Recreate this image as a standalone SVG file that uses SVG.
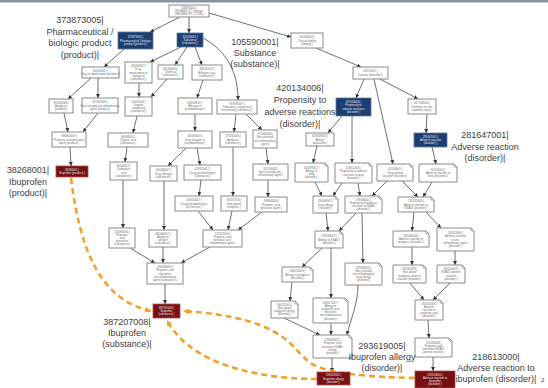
<svg xmlns="http://www.w3.org/2000/svg" width="548" height="388" viewBox="0 0 548 388">
<style>
  .bx{fill:#fff;stroke:#8a8a8a;stroke-width:1}
  .nt{fill:#fff;stroke:#8a8a8a;stroke-width:1}
  .fold{fill:none;stroke:#8a8a8a;stroke-width:0.7}
  .blue{fill:#1d3d6f;stroke:#5c7aa6;stroke-width:0.8}
  .red{fill:#761012;stroke:#b35050;stroke-width:0.8}
  .t{font-family:"Liberation Sans",Arial,sans-serif;font-size:2.8px;fill:#6e6e6e;text-anchor:middle}
  .tw{font-family:"Liberation Sans",Arial,sans-serif;font-size:2.8px;fill:#e6e6f0;text-anchor:middle}
  .lbl{font-family:"Liberation Sans",Arial,sans-serif;font-size:9px;fill:#3e3e3e;text-anchor:middle}
  .e{fill:none;stroke:#4a4a4a;stroke-width:0.8;marker-end:url(#ah)}
  .o{fill:none;stroke:#f2a22a;stroke-width:2.6;stroke-dasharray:6 4;marker-end:url(#oh)}
</style>
<defs>
  <marker id="ah" viewBox="0 0 6 6" refX="6" refY="3" markerWidth="5" markerHeight="5" orient="auto"><path d="M0 0L6 3L0 6z" fill="#333"/></marker>
  <marker id="oh" viewBox="0 0 6 6" refX="6" refY="3" markerWidth="6" markerHeight="6" markerUnits="userSpaceOnUse" orient="auto"><path d="M0 0L6 3L0 6z" fill="#f2a22a"/></marker>
</defs>
<rect width="548" height="388" fill="#fff"/>
<rect width="548" height="2.5" fill="#8794a3"/>

<!-- connectors -->
<g id="connectors">
  <path class="e" d="M180 17L150 32"/>
  <path class="e" d="M189 17L189 33"/>
  <path class="e" d="M209 13L291 37"/>
  <path class="e" d="M124 49L104 67"/>
  <path class="e" d="M181 47L150 62"/>
  <path class="e" d="M187 47L175 65"/>
  <path class="e" d="M195 47L202 65"/>
  <path class="e" d="M203 38C225 50 238 70 238 100"/>
  <path class="e" d="M316 48L361 67"/>
  <path class="e" d="M91 78L68 99"/>
  <path class="e" d="M98 78L98 98"/>
  <path class="e" d="M139 83L139 97"/>
  <path class="e" d="M167 79L151 97"/>
  <path class="e" d="M203 80L197 98"/>
  <path class="e" d="M364 79L356 98"/>
  <path class="e" d="M380 79L418 99"/>
  <path class="e" d="M374 79L393 164"/>
  <path class="e" d="M64 113L68 132"/>
  <path class="e" d="M98 113L83 132"/>
  <path class="e" d="M137 116L133 133"/>
  <path class="e" d="M195 114L195 131"/>
  <path class="e" d="M236 114L234 132"/>
  <path class="e" d="M246 114L262 130"/>
  <path class="e" d="M342 116L328 133"/>
  <path class="e" d="M352 116L352 163"/>
  <path class="e" d="M427 114L426 133"/>
  <path class="e" d="M70 147L71 166"/>
  <path class="e" d="M127 147L125 162"/>
  <path class="e" d="M186 148L168 166"/>
  <path class="e" d="M197 148L200 165"/>
  <path class="e" d="M233 147L233 196"/>
  <path class="e" d="M266 148L268 164"/>
  <path class="e" d="M317 146L313 163"/>
  <path class="e" d="M432 147L436 164"/>
  <path class="e" d="M123 180L123 228"/>
  <path class="e" d="M164 181L164 230"/>
  <path class="e" d="M201 180L199 196"/>
  <path class="e" d="M268 180L268 197"/>
  <path class="e" d="M315 182L322 196"/>
  <path class="e" d="M342 183L333 196"/>
  <path class="e" d="M358 183L360 196"/>
  <path class="e" d="M387 181L372 196"/>
  <path class="e" d="M402 181L418 197"/>
  <path class="e" d="M432 182L423 197"/>
  <path class="e" d="M198 211L213 230"/>
  <path class="e" d="M232 211L228 230"/>
  <path class="e" d="M262 212L238 230"/>
  <path class="e" d="M326 213L328 231"/>
  <path class="e" d="M356 213L339 231"/>
  <path class="e" d="M362 213L363 263"/>
  <path class="e" d="M414 212L412 231"/>
  <path class="e" d="M426 212L441 228"/>
  <path class="e" d="M130 248L155 263"/>
  <path class="e" d="M163 247L163 263"/>
  <path class="e" d="M210 247L181 263"/>
  <path class="e" d="M322 248L302 267"/>
  <path class="e" d="M331 248L331 298"/>
  <path class="e" d="M412 247L412 265"/>
  <path class="e" d="M455 251L455 265"/>
  <path class="e" d="M165 284L165 304"/>
  <path class="e" d="M292 282L290 301"/>
  <path class="e" d="M358 285C358 305 350 320 347 335"/>
  <path class="e" d="M284 318L320 335"/>
  <path class="e" d="M331 323L331 335"/>
  <path class="e" d="M410 283L424 300"/>
  <path class="e" d="M450 283L433 300"/>
  <path class="e" d="M428 320L429 338"/>
  <path class="e" d="M332 358L332 372"/>
  <path class="e" d="M433 357L433 371"/>
  <!-- attribute relationships to the ibuprofen substance -->
  <path class="o" d="M71 178C80 250 100 300 151 311"/>
  <path class="o" d="M317 379C260 379 190 365 167 320"/>
  <path class="o" d="M415 378C370 377 330 374 312 364C290 350 290 318 183 311"/>
</g>

<!-- concept nodes -->
<g id="n138875005"><rect class="bx" x="169" y="5" width="40" height="12"/><text class="t" x="189" y="8.8"><tspan x="189">138875005 |</tspan><tspan x="189" dy="3.2">SNOMED CT Concept</tspan><tspan x="189" dy="3.2">(SNOMED RT+CTV3) |</tspan></text></g>
<g id="n373873005"><rect class="blue" x="118" y="32" width="35" height="17"/><text class="tw" x="135.5" y="38.3"><tspan x="135.5">373873005 |</tspan><tspan x="135.5" dy="3.2">Pharmaceutical / biologic</tspan><tspan x="135.5" dy="3.2">product (product) |</tspan></text></g>
<g id="n105590001"><rect class="blue" x="177" y="33" width="26" height="14"/><text class="tw" x="190" y="37.8"><tspan x="190">105590001 |</tspan><tspan x="190" dy="3.2">Substance</tspan><tspan x="190" dy="3.2">(substance) |</tspan></text></g>
<g id="n404684003"><rect class="bx" x="291" y="33" width="32" height="15"/><text class="t" x="307" y="38.3"><tspan x="307">404684003 |</tspan><tspan x="307" dy="3.2">Clinical finding</tspan><tspan x="307" dy="3.2">(finding) |</tspan></text></g>
<g id="nA"><rect class="bx" x="82" y="67" width="37" height="11"/><text class="t" x="100.5" y="71.9"><tspan x="100.5">410942007 |</tspan><tspan x="100.5" dy="3.2">Drug or medicament (product) |</tspan></text></g>
<g id="nB"><rect class="bx" x="125" y="62" width="27" height="21"/><text class="t" x="138.5" y="67.1"><tspan x="138.5">410942007 |</tspan><tspan x="138.5" dy="3.2">Drug,</tspan><tspan x="138.5" dy="3.2">medicament or</tspan><tspan x="138.5" dy="3.2">biological</tspan><tspan x="138.5" dy="3.2">(substance) |</tspan></text></g>
<g id="nC"><rect class="bx" x="158" y="65" width="25" height="14"/><text class="t" x="170.5" y="69.8"><tspan x="170.5">441900009 |</tspan><tspan x="170.5" dy="3.2">Chemical</tspan><tspan x="170.5" dy="3.2">(substance) |</tspan></text></g>
<g id="nD"><rect class="bx" x="192" y="65" width="30" height="15"/><text class="t" x="207" y="70.3"><tspan x="207">406455002 |</tspan><tspan x="207" dy="3.2">Allergen class</tspan><tspan x="207" dy="3.2">(substance) |</tspan></text></g>
<g id="n64572001"><rect class="bx" x="353" y="67" width="35" height="12"/><text class="t" x="370.5" y="72.4"><tspan x="370.5">64572001 |</tspan><tspan x="370.5" dy="3.2">Disease (disorder) |</tspan></text></g>
<g id="nE"><rect class="bx" x="49" y="99" width="24" height="14"/><text class="t" x="61" y="103.8"><tspan x="61">373265006 |</tspan><tspan x="61" dy="3.2">Analgesic</tspan><tspan x="61" dy="3.2">(product) |</tspan></text></g>
<g id="nF"><rect class="bx" x="82" y="98" width="36" height="15"/><text class="t" x="100" y="103.3"><tspan x="100">372665008 |</tspan><tspan x="100" dy="3.2">Non-steroidal anti-inflammatory</tspan><tspan x="100" dy="3.2">agent (product) |</tspan></text></g>
<g id="nG"><rect class="bx" x="125" y="97" width="27" height="19"/><text class="t" x="138.5" y="102.7"><tspan x="138.5">59107004 |</tspan><tspan x="138.5" dy="3.2">Organic</tspan><tspan x="138.5" dy="3.2">compound</tspan><tspan x="138.5" dy="3.2">(substance) |</tspan></text></g>
<g id="nH"><rect class="bx" x="178" y="98" width="34" height="16"/><text class="t" x="195" y="103.8"><tspan x="195">418038007 |</tspan><tspan x="195" dy="3.2">Allergen or</tspan><tspan x="195" dy="3.2">pseudoallergen |</tspan></text></g>
<g id="nI"><rect class="bx" x="217" y="100" width="40" height="14"/><text class="t" x="237" y="104.8"><tspan x="237">373463007 |</tspan><tspan x="237" dy="3.2">Substance categorized</tspan><tspan x="237" dy="3.2">functionally (substance) |</tspan></text></g>
<g id="n420134006"><rect class="blue" x="336" y="98" width="35" height="18"/><text class="tw" x="353.5" y="103.2"><tspan x="353.5">420134006 |</tspan><tspan x="353.5" dy="3.2">Propensity to</tspan><tspan x="353.5" dy="3.2">adverse reactions</tspan><tspan x="353.5" dy="3.2">(disorder) |</tspan></text></g>
<g id="nQ"><rect class="bx" x="408" y="99" width="28" height="15"/><text class="t" x="422" y="104.3"><tspan x="422">417163006 |</tspan><tspan x="422" dy="3.2">Traumatic or non-</tspan><tspan x="422" dy="3.2">traumatic injury |</tspan></text></g>
<g id="nJ"><rect class="bx" x="52" y="132" width="34" height="15"/><text class="t" x="69" y="137.3"><tspan x="69">768604009 |</tspan><tspan x="69" dy="3.2">Propionic acid derivative</tspan><tspan x="69" dy="3.2">agent (product) |</tspan></text></g>
<g id="nK"><rect class="bx" x="108" y="133" width="40" height="14"/><text class="t" x="128" y="137.8"><tspan x="128">48698004 |</tspan><tspan x="128" dy="3.2">Organic acid</tspan><tspan x="128" dy="3.2">(substance) |</tspan></text></g>
<g id="nL"><rect class="bx" x="178" y="131" width="34" height="17"/><text class="t" x="195" y="137.3"><tspan x="195">406463001 |</tspan><tspan x="195" dy="3.2">Drug allergen or</tspan><tspan x="195" dy="3.2">pseudoallergen |</tspan></text></g>
<g id="nM"><rect class="bx" x="220" y="132" width="26" height="15"/><text class="t" x="233" y="137.3"><tspan x="233">373265006 |</tspan><tspan x="233" dy="3.2">Analgesic</tspan><tspan x="233" dy="3.2">(substance) |</tspan></text></g>
<g id="nN"><rect class="bx" x="253" y="130" width="24" height="18"/><text class="t" x="265" y="135.2"><tspan x="265">372665008 |</tspan><tspan x="265" dy="3.2">Non-steroidal</tspan><tspan x="265" dy="3.2">anti-inflammatory</tspan><tspan x="265" dy="3.2">agent |</tspan></text></g>
<g id="nR5"><rect class="bx" x="306" y="133" width="28" height="13"/><text class="t" x="320" y="137.3"><tspan x="320">609328004 |</tspan><tspan x="320" dy="3.2">Allergic</tspan><tspan x="320" dy="3.2">disposition |</tspan></text></g>
<g id="n281647001"><rect class="blue" x="414" y="133" width="33" height="14"/><text class="tw" x="430.5" y="137.8"><tspan x="430.5">281647001 |</tspan><tspan x="430.5" dy="3.2">Adverse reaction</tspan><tspan x="430.5" dy="3.2">(disorder) |</tspan></text></g>
<g id="n38268001"><rect class="red" x="56" y="166" width="32" height="11"/><text class="tw" x="72" y="170.9"><tspan x="72">38268001 |</tspan><tspan x="72" dy="3.2">Ibuprofen (product) |</tspan></text></g>
<g id="nS1"><rect class="bx" x="110" y="162" width="27" height="18"/><text class="t" x="123.5" y="167.2"><tspan x="123.5">68540007 |</tspan><tspan x="123.5" dy="3.2">Carboxylic</tspan><tspan x="123.5" dy="3.2">acid</tspan><tspan x="123.5" dy="3.2">(substance) |</tspan></text></g>
<g id="nS2"><rect class="bx" x="150" y="166" width="27" height="15"/><text class="t" x="163.5" y="171.3"><tspan x="163.5">406464007 |</tspan><tspan x="163.5" dy="3.2">Drug allergen</tspan><tspan x="163.5" dy="3.2">(substance) |</tspan></text></g>
<g id="nS3"><rect class="bx" x="184" y="165" width="37" height="15"/><text class="t" x="202.5" y="170.3"><tspan x="202.5">418920007 |</tspan><tspan x="202.5" dy="3.2">Drug pseudoallergen</tspan><tspan x="202.5" dy="3.2">(substance) |</tspan></text></g>
<g id="nS4"><rect class="bx" x="253" y="164" width="35" height="16"/><text class="t" x="270.5" y="169.8"><tspan x="270.5">763158003 |</tspan><tspan x="270.5" dy="3.2">Non-steroidal anti-</tspan><tspan x="270.5" dy="3.2">inflammatory agent |</tspan></text></g>
<g id="nS5"><path class="nt" d="M295 163h30l3 3v16h-33z"/><path class="fold" d="M325 163v3h3"/><text class="t" x="311.5" y="168.7"><tspan x="311.5">416098002 |</tspan><tspan x="311.5" dy="3.2">Allergy to</tspan><tspan x="311.5" dy="3.2">drug</tspan><tspan x="311.5" dy="3.2">(disorder) |</tspan></text></g>
<g id="nS6"><path class="nt" d="M335 163h34l3 3v17h-37z"/><path class="fold" d="M369 163v3h3"/><text class="t" x="353.5" y="169.2"><tspan x="353.5">419511003 |</tspan><tspan x="353.5" dy="3.2">Propensity to adverse</tspan><tspan x="353.5" dy="3.2">reactions to drug</tspan><tspan x="353.5" dy="3.2">(disorder) |</tspan></text></g>
<g id="nS7"><path class="nt" d="M377 164h33l3 3v14h-36z"/><path class="fold" d="M410 164v3h3"/><text class="t" x="395" y="170.3"><tspan x="395">62014003 |</tspan><tspan x="395" dy="3.2">Drug-related</tspan><tspan x="395" dy="3.2">disorder (disorder) |</tspan></text></g>
<g id="nS8"><path class="nt" d="M419 164h35l3 3v15h-38z"/><path class="fold" d="M454 164v3h3"/><text class="t" x="438" y="170.8"><tspan x="438">62014003 |</tspan><tspan x="438" dy="3.2">Adverse reaction to</tspan><tspan x="438" dy="3.2">drug (disorder) |</tspan></text></g>
<g id="nU1"><rect class="bx" x="175" y="196" width="38" height="15"/><text class="t" x="194" y="201.3"><tspan x="194">418920007 |</tspan><tspan x="194" dy="3.2">Drug pseudoallergen</tspan><tspan x="194" dy="3.2">by function |</tspan></text></g>
<g id="nU2"><rect class="bx" x="221" y="196" width="26" height="15"/><text class="t" x="234" y="201.3"><tspan x="234">373477003 |</tspan><tspan x="234" dy="3.2">Non-opioid</tspan><tspan x="234" dy="3.2">analgesic |</tspan></text></g>
<g id="nU3"><rect class="bx" x="255" y="197" width="32" height="15"/><text class="t" x="271" y="202.3"><tspan x="271">768604009 |</tspan><tspan x="271" dy="3.2">Propionic acid</tspan><tspan x="271" dy="3.2">derivative agent |</tspan></text></g>
<g id="nU4"><path class="nt" d="M313 196h22l3 3v14h-25z"/><path class="fold" d="M335 196v3h3"/><text class="t" x="325.5" y="202.3"><tspan x="325.5">416098002 |</tspan><tspan x="325.5" dy="3.2">Drug allergy</tspan><tspan x="325.5" dy="3.2">(disorder) |</tspan></text></g>
<g id="nU5"><path class="nt" d="M345 196h34l3 3v14h-37z"/><path class="fold" d="M379 196v3h3"/><text class="t" x="363.5" y="200.7"><tspan x="363.5">293586001 |</tspan><tspan x="363.5" dy="3.2">Propensity to adverse</tspan><tspan x="363.5" dy="3.2">reactions to NSAID</tspan><tspan x="363.5" dy="3.2">(disorder) |</tspan></text></g>
<g id="nU6"><path class="nt" d="M398 197h33l3 3v12h-36z"/><path class="fold" d="M431 197v3h3"/><text class="t" x="416" y="202.3"><tspan x="416">292022009 |</tspan><tspan x="416" dy="3.2">Adverse reaction to</tspan><tspan x="416" dy="3.2">NSAID (disorder) |</tspan></text></g>
<g id="nV1"><rect class="bx" x="109" y="228" width="26" height="20"/><text class="t" x="122" y="232.6"><tspan x="122">116280004 |</tspan><tspan x="122" dy="3.2">Propionic</tspan><tspan x="122" dy="3.2">acid</tspan><tspan x="122" dy="3.2">derivative</tspan><tspan x="122" dy="3.2">(substance) |</tspan></text></g>
<g id="nV2"><rect class="bx" x="149" y="230" width="28" height="17"/><text class="t" x="163" y="234.7"><tspan x="163">406464007 |</tspan><tspan x="163" dy="3.2">Analgesic</tspan><tspan x="163" dy="3.2">allergen</tspan><tspan x="163" dy="3.2">(substance) |</tspan></text></g>
<g id="nV3"><rect class="bx" x="203" y="230" width="39" height="17"/><text class="t" x="222.5" y="234.7"><tspan x="222.5">372657004 |</tspan><tspan x="222.5" dy="3.2">Propionic acid</tspan><tspan x="222.5" dy="3.2">derivative anti-</tspan><tspan x="222.5" dy="3.2">inflammatory agent |</tspan></text></g>
<g id="nV4"><path class="nt" d="M315 231h25l3 3v14h-28z"/><path class="fold" d="M340 231v3h3"/><text class="t" x="329" y="237.3"><tspan x="329">293584003 |</tspan><tspan x="329" dy="3.2">Allergy to NSAID</tspan><tspan x="329" dy="3.2">(disorder) |</tspan></text></g>
<g id="nV5"><path class="nt" d="M393 231h33l3 3v13h-36z"/><path class="fold" d="M426 231v3h3"/><text class="t" x="411" y="236.8"><tspan x="411">292044008 |</tspan><tspan x="411" dy="3.2">Adverse reaction to</tspan><tspan x="411" dy="3.2">analgesic (disorder) |</tspan></text></g>
<g id="nV6"><path class="nt" d="M437 228h34l3 3v20h-37z"/><path class="fold" d="M471 228v3h3"/><text class="t" x="455.5" y="234.1"><tspan x="455.5">292023004 |</tspan><tspan x="455.5" dy="3.2">Adverse reaction</tspan><tspan x="455.5" dy="3.2">to anti-</tspan><tspan x="455.5" dy="3.2">inflammatory agent</tspan><tspan x="455.5" dy="3.2">(disorder) |</tspan></text></g>
<g id="nW1"><rect class="bx" x="147" y="263" width="36" height="21"/><text class="t" x="165" y="268.1"><tspan x="165">406466009 |</tspan><tspan x="165" dy="3.2">Propionic acid</tspan><tspan x="165" dy="3.2">derivative</tspan><tspan x="165" dy="3.2">anti-inflammatory</tspan><tspan x="165" dy="3.2">agent (substance) |</tspan></text></g>
<g id="nW2"><path class="nt" d="M282 267h28l3 3v12h-31z"/><path class="fold" d="M310 267v3h3"/><text class="t" x="297.5" y="272.3"><tspan x="297.5">294124009 |</tspan><tspan x="297.5" dy="3.2">Allergy to analgesic</tspan><tspan x="297.5" dy="3.2">(disorder) |</tspan></text></g>
<g id="nW3"><path class="nt" d="M345 263h34l3 3v19h-37z"/><path class="fold" d="M379 263v3h3"/><text class="t" x="363.5" y="268.6"><tspan x="363.5">293584003 |</tspan><tspan x="363.5" dy="3.2">Non-steroidal</tspan><tspan x="363.5" dy="3.2">anti-inflammatory</tspan><tspan x="363.5" dy="3.2">drug allergy</tspan><tspan x="363.5" dy="3.2">(disorder) |</tspan></text></g>
<g id="nW4"><path class="nt" d="M393 265h30l3 3v15h-33z"/><path class="fold" d="M423 265v3h3"/><text class="t" x="409.5" y="270.2"><tspan x="409.5">292045009 |</tspan><tspan x="409.5" dy="3.2">Non-opioid</tspan><tspan x="409.5" dy="3.2">analgesic adverse</tspan><tspan x="409.5" dy="3.2">reaction (disorder) |</tspan></text></g>
<g id="nW5"><path class="nt" d="M437 265h25l3 3v15h-28z"/><path class="fold" d="M462 265v3h3"/><text class="t" x="451" y="270.2"><tspan x="451">292024005 |</tspan><tspan x="451" dy="3.2">NSAID adverse</tspan><tspan x="451" dy="3.2">reaction</tspan><tspan x="451" dy="3.2">(disorder) |</tspan></text></g>
<g id="nX1"><path class="nt" d="M271 301h24l3 3v14h-27z"/><path class="fold" d="M295 301v3h3"/><text class="t" x="284.5" y="305.7"><tspan x="284.5">294125005 |</tspan><tspan x="284.5" dy="3.2">Non-opioid</tspan><tspan x="284.5" dy="3.2">analgesic allergy</tspan><tspan x="284.5" dy="3.2">(disorder) |</tspan></text></g>
<g id="nX2"><path class="nt" d="M313 298h32l3 3v22h-35z"/><path class="fold" d="M345 298v3h3"/><text class="t" x="330.5" y="303.5"><tspan x="330.5">293617007 |</tspan><tspan x="330.5" dy="3.2">Allergy to</tspan><tspan x="330.5" dy="3.2">propionic acid</tspan><tspan x="330.5" dy="3.2">derivative</tspan><tspan x="330.5" dy="3.2">anti-inflammatory</tspan><tspan x="330.5" dy="3.2">(disorder) |</tspan></text></g>
<g id="nX3"><path class="nt" d="M415 300h25l3 3v17h-28z"/><path class="fold" d="M440 300v3h3"/><text class="t" x="429" y="304.6"><tspan x="429">292032003 |</tspan><tspan x="429" dy="3.2">Adverse</tspan><tspan x="429" dy="3.2">reaction to</tspan><tspan x="429" dy="3.2">propionic acid</tspan><tspan x="429" dy="3.2">(disorder) |</tspan></text></g>
<g id="nY1"><path class="nt" d="M313 335h36l3 3v20h-39z"/><path class="fold" d="M349 335v3h3"/><text class="t" x="332.5" y="341.1"><tspan x="332.5">293618002 |</tspan><tspan x="332.5" dy="3.2">Propionic acid</tspan><tspan x="332.5" dy="3.2">derivative NSAID</tspan><tspan x="332.5" dy="3.2">allergy</tspan><tspan x="332.5" dy="3.2">(disorder) |</tspan></text></g>
<g id="nY2"><path class="nt" d="M415 338h34l3 3v16h-37z"/><path class="fold" d="M449 338v3h3"/><text class="t" x="433.5" y="343.7"><tspan x="433.5">292033008 |</tspan><tspan x="433.5" dy="3.2">Propionic acid</tspan><tspan x="433.5" dy="3.2">derivative NSAID</tspan><tspan x="433.5" dy="3.2">adverse reaction |</tspan></text></g>
<g id="n387207008"><rect class="red" x="153" y="304" width="27" height="14"/><text class="tw" x="166.5" y="308.8"><tspan x="166.5">387207008 |</tspan><tspan x="166.5" dy="3.2">Ibuprofen</tspan><tspan x="166.5" dy="3.2">(substance) |</tspan></text></g>
<g id="n293619005"><rect class="red" x="317" y="372" width="33" height="13"/><text class="tw" x="333.5" y="376.3"><tspan x="333.5">293619005 |</tspan><tspan x="333.5" dy="3.2">Ibuprofen allergy</tspan><tspan x="333.5" dy="3.2">(disorder) |</tspan></text></g>
<g id="n218613000"><rect class="red" x="415" y="371" width="40" height="17"/><text class="tw" x="435" y="375.7"><tspan x="435">218613000 |</tspan><tspan x="435" dy="3.2">Adverse reaction to</tspan><tspan x="435" dy="3.2">ibuprofen</tspan><tspan x="435" dy="3.2">(disorder) |</tspan></text></g>

<!-- callout labels -->
<g id="labels">
  <text class="lbl" x="80" y="23"><tspan x="80">373873005|</tspan><tspan x="80" dy="11.5">Pharmaceutical /</tspan><tspan x="80" dy="11.5">biologic product</tspan><tspan x="80" dy="11.5">(product)|</tspan></text>
  <text class="lbl" x="255" y="45"><tspan x="255">105590001|</tspan><tspan x="255" dy="11">Substance</tspan><tspan x="255" dy="11">(substance)|</tspan></text>
  <text class="lbl" x="300" y="91"><tspan x="300">420134006|</tspan><tspan x="300" dy="12">Propensity to</tspan><tspan x="300" dy="12">adverse reactions</tspan><tspan x="300" dy="11.5">(disorder)|</tspan></text>
  <text class="lbl" x="485" y="138"><tspan x="485">281647001|</tspan><tspan x="485" dy="11.5">Adverse reaction</tspan><tspan x="485" dy="11.5">(disorder)|</tspan></text>
  <text class="lbl" x="28" y="173"><tspan x="28">38268001|</tspan><tspan x="28" dy="11.5">Ibuprofen</tspan><tspan x="28" dy="11.5">(product)|</tspan></text>
  <text class="lbl" x="127" y="325"><tspan x="127">387207008|</tspan><tspan x="127" dy="11">Ibuprofen</tspan><tspan x="127" dy="11">(substance)|</tspan></text>
  <text class="lbl" x="382" y="349"><tspan x="382">293619005|</tspan><tspan x="382" dy="11">Ibuprofen allergy</tspan><tspan x="382" dy="11">(disorder)|</tspan></text>
  <text class="lbl" x="496" y="360"><tspan x="496">218613000|</tspan><tspan x="496" dy="11">Adverse reaction to</tspan><tspan x="496" dy="11">ibuprofen (disorder)|</tspan></text>
  <text class="lbl" x="541" y="382" style="font-size:6px;text-anchor:start">2</text>
</g>
</svg>
